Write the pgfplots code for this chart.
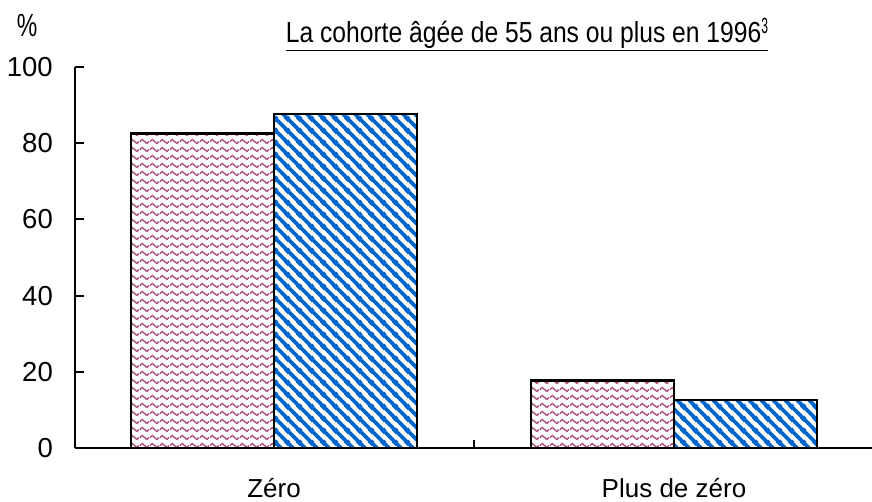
\documentclass[border=0pt]{standalone}
\usepackage{fontspec}
\usepackage{graphicx}
\setmainfont{Liberation Sans}
\newfontfamily\titlefont{Liberation Sans}[FakeStretch=0.85]
\usepackage{pgfplots}
\pgfplotsset{compat=1.18}
\usetikzlibrary{patterns.meta}
\definecolor{mauve}{RGB}{175,75,125}
\definecolor{bleu}{RGB}{0,102,204}
\pgfdeclarepattern{
  name=mywaves, type=uncolored,
  bottom left={\pgfpoint{0pt}{0pt}},
  top right={\pgfpoint{10pt}{7.5pt}},
  tile size={\pgfpoint{10pt}{7.5pt}},
  code={
    \pgfsetlinewidth{1.5pt}
    \pgfpathmoveto{\pgfpoint{0pt}{3.75pt}}
    \pgfpathsine{\pgfpoint{2.5pt}{2pt}}
    \pgfpathcosine{\pgfpoint{2.5pt}{-2pt}}
    \pgfpathsine{\pgfpoint{2.5pt}{-2pt}}
    \pgfpathcosine{\pgfpoint{2.5pt}{2pt}}
    \pgfusepath{stroke}
  }
}
\pgfdeclarepattern{
  name=mystripes, type=uncolored,
  bottom left={\pgfpoint{0pt}{0pt}},
  top right={\pgfpoint{12pt}{12pt}},
  tile size={\pgfpoint{12pt}{12pt}},
  code={
    \pgfsetlinewidth{4pt}
    \pgfpathmoveto{\pgfpoint{-2pt}{2pt}}
    \pgfpathlineto{\pgfpoint{2pt}{-2pt}}
    \pgfpathmoveto{\pgfpoint{-2pt}{14pt}}
    \pgfpathlineto{\pgfpoint{14pt}{-2pt}}
    \pgfpathmoveto{\pgfpoint{10pt}{14pt}}
    \pgfpathlineto{\pgfpoint{14pt}{10pt}}
    \pgfusepath{stroke}
  }
}
\begin{document}
\begin{tikzpicture}
\useasboundingbox (0,0) rectangle (872pt,501pt);
\begin{axis}[
  at={(75pt,53pt)}, anchor=south west,
  scale only axis, width=797pt, height=381pt,
  xmin=-0.4975, xmax=1.495, ymin=0, ymax=100,
  axis x line=bottom, axis y line=left,
  axis line style={line width=2.5pt, -, black},
  ybar=0pt, bar width=143pt,
  ytick={0,20,...,100},
  tick align=inside,
  major tick length=9pt,
  tick style={line width=2pt, black},
  xtick={0,1}, xticklabels={Zéro, Plus de zéro},
  x tick style={draw=none},
  extra x ticks={0.5}, extra x tick labels={},
  extra x tick style={x tick style={draw=black, line width=2pt}, major tick length=8pt},
  /pgf/number format/assume math mode=true,
  xticklabel style={font=\fontsize{26}{30}\selectfont, anchor=base, yshift=-49pt},
  yticklabel style={font=\fontsize{27.5}{32}\selectfont, anchor=east, inner sep=0pt, xshift=-22pt},
  clip=false,
]
\addplot[draw=black, line width=2.5pt, pattern=mywaves, pattern color=mauve]
  coordinates {(0,82.6) (1,17.7)};
\addplot[draw=black, line width=2.5pt, pattern=mystripes, pattern color=bleu]
  coordinates {(0,87.6) (1,12.6)};
\end{axis}
\node[anchor=base, inner sep=0pt, font=\fontsize{32}{36}\selectfont] at (27pt,464pt) {\scalebox{0.72}[1]{\%}};
\node[anchor=base, inner sep=0pt, font=\titlefont\fontsize{29}{32}\selectfont] at (527pt,458pt)
  {\underline{La cohorte âgée de 55 ans ou plus en 1996\raisebox{9pt}{\scalebox{0.65}[1]{\fontsize{22}{26}\selectfont 3}}}};
\end{tikzpicture}
\end{document}
